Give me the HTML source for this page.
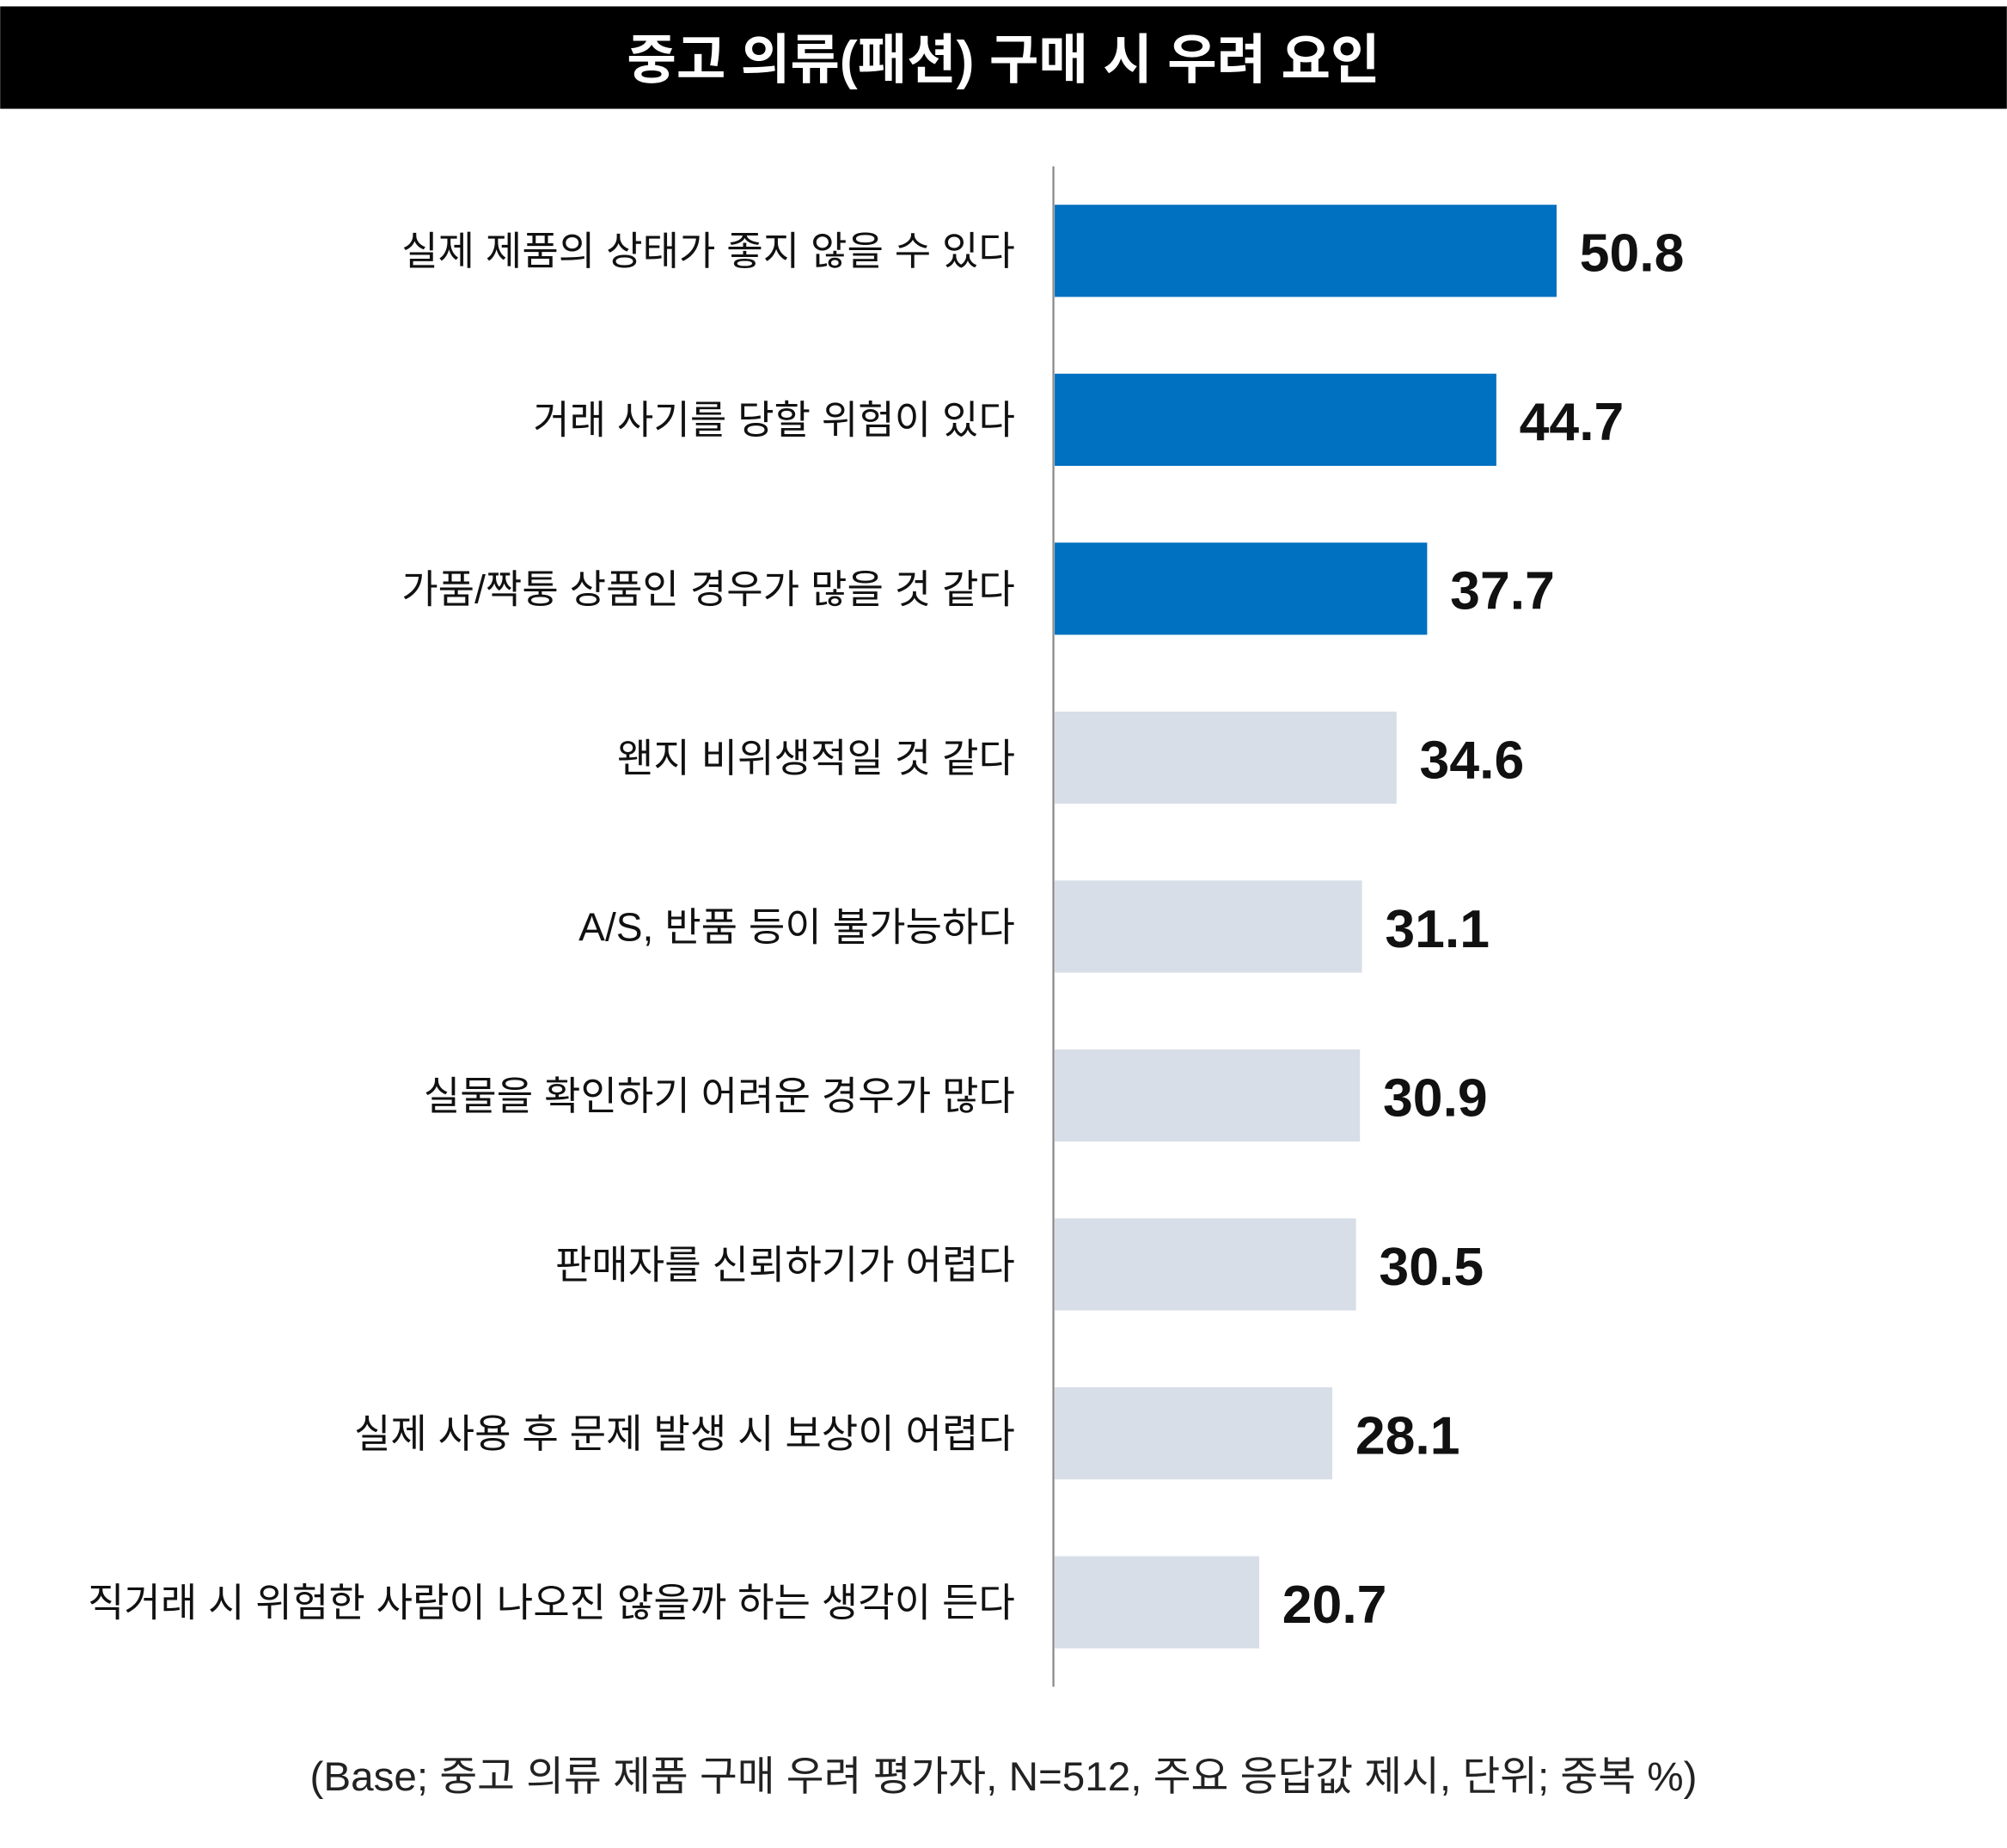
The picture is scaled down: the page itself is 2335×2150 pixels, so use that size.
<!DOCTYPE html>
<html><head><meta charset="utf-8"><style>
html,body{margin:0;padding:0;background:#fff;}
svg{display:block;}
text{font-family:"Liberation Sans","Noto Sans CJK KR",sans-serif;}
</style></head><body>
<svg id="chart" width="2335" height="2150" viewBox="0 0 1568 1444" xmlns="http://www.w3.org/2000/svg">
<rect x="0" y="5" width="1568" height="80" fill="#000"/>
<text x="784" y="61" text-anchor="middle" font-size="42" font-weight="bold" fill="#fff">중고 의류(패션) 구매 시 우려 요인</text>
<line x1="823" y1="130" x2="823" y2="1318" stroke="#888" stroke-width="1.5"/>
<g id="bars"></g>
<text x="784" y="1399" text-anchor="middle" font-size="32" fill="#222">(Base; 중고 의류 제품 구매 우려 평가자, N=512, 주요 응답값 제시,  단위; 중복 %)</text>
</svg>
<script>
const categories = ["실제 제품의 상태가 좋지 않을 수 있다","거래 사기를 당할 위험이 있다","가품/짝퉁 상품인 경우가 많을 것 같다","왠지 비위생적일 것 같다","A/S, 반품 등이 불가능하다","실물을 확인하기 어려운 경우가 많다","판매자를 신뢰하기가 어렵다","실제 사용 후 문제 발생 시 보상이 어렵다","직거래 시 위험한 사람이 나오진 않을까 하는 생각이 든다"];
const values = [50.8,44.7,37.7,34.6,31.1,30.9,30.5,28.1,20.7];
const highlighted = [true,true,true,false,false,false,false,false,false];
const ns="http://www.w3.org/2000/svg";
const g=document.getElementById('bars');
const x0=824, pxPerUnit=7.72, y0=160, step=132, bh=72;
function xScale(v){return v*pxPerUnit;}
function yScale(i){return y0+i*step;}
categories.forEach((c,i)=>{
  const y=yScale(i), w=xScale(values[i]);
  const r=document.createElementNS(ns,'rect');
  
  
  r.setAttribute('x',x0);r.setAttribute('y',y);r.setAttribute('width',w);r.setAttribute('height',bh);
  r.setAttribute('fill',highlighted[i]?'#0070C0':'#D8DEE7');
  g.appendChild(r);
  const t=document.createElementNS(ns,'text');
  
  
  t.setAttribute('x',793);t.setAttribute('y',y+bh/2+11);
  t.setAttribute('text-anchor','end');t.setAttribute('font-size','31');t.setAttribute('fill','#111');
  t.textContent=c;g.appendChild(t);
  const v=document.createElementNS(ns,'text');
  
  
  v.setAttribute('x',x0+w+18);v.setAttribute('y',y+bh/2+16);
  v.setAttribute('font-size','42');v.setAttribute('font-weight','bold');v.setAttribute('fill','#111');
  v.textContent=values[i].toFixed(1);g.appendChild(v);
});
</script>
</body></html>
